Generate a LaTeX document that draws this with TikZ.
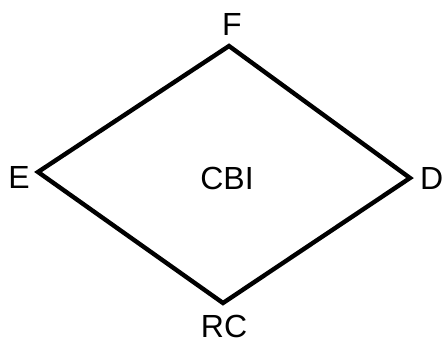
\documentclass[tikz,border=0pt]{standalone}
\usepackage{fontspec}
\setmainfont{Liberation Sans}
\begin{document}
\begin{tikzpicture}[x=1pt,y=-1pt,
  lbl/.style={inner sep=0pt,font=\fontsize{32}{32}\selectfont},
  edge/.style={line width=4.4pt,line join=miter}]
\useasboundingbox (0,0) rectangle (443,346);
% corners of the rhombus
\coordinate (top) at (229,46);
\coordinate (left) at (38,172);
\coordinate (right) at (410,178);
\coordinate (bottom) at (223,303);
\draw[edge] (top) -- (right) -- (bottom) -- (left) -- cycle;
% labels
\node[lbl] (F) at (232,24) {F};
\node[lbl] (E) at (19,177) {E};
\node[lbl,anchor=west] (D) at (420,178) {D};
\node[lbl] (CBI) at (227,178) {CBI};
\node[lbl,anchor=base] (RC) at (224,337) {RC};
\end{tikzpicture}
\end{document}
